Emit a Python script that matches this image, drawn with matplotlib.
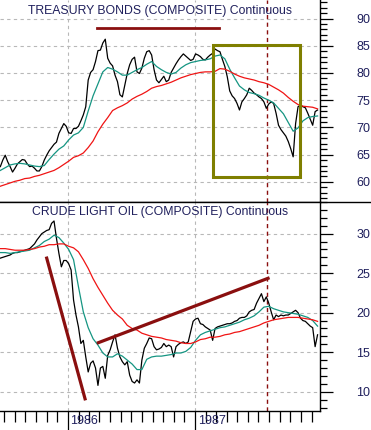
import numpy as np
import pandas as pd
import matplotlib
matplotlib.use('Agg')
import matplotlib.pyplot as plt
import matplotlib.dates as mdates
import matplotlib.ticker as mticker
import matplotlib.transforms as mtransforms
from matplotlib.lines import Line2D
from matplotlib.patches import Rectangle

# ---------------- data ----------------
price_dates = pd.date_range('1985-06-21', periods=131, freq='7D')
ma_dates = pd.date_range('1985-06-21', periods=66, freq='14D')

bond_price = [62.8, 64.0, 64.9, 63.7, 62.8, 61.8, 62.5, 63.3, 63.7, 64.1,
              64.0, 63.3, 62.8, 62.9, 62.5, 62.0, 62.0, 62.8, 64.0, 64.9,
              65.7, 66.3, 66.9, 67.3, 68.9, 69.8, 70.7, 70.2, 69.0, 68.9,
              69.8, 69.8, 70.2, 71.2, 72.3, 73.8, 78.7, 80.1, 80.6, 82.1,
              84.1, 84.2, 85.5, 86.2, 82.7, 81.8, 81.3, 79.6, 78.4, 76.0,
              75.6, 77.8, 79.9, 81.5, 82.5, 82.9, 80.2, 79.9, 80.9, 82.7,
              83.9, 84.1, 83.3, 80.6, 78.7, 78.2, 78.8, 79.4, 78.4, 78.7,
              80.1, 80.9, 81.7, 82.4, 83.0, 83.5, 83.1, 82.7, 82.3, 82.5,
              83.5, 83.3, 83.0, 82.5, 82.4, 82.9, 83.3, 83.6, 84.4, 84.1,
              83.9, 82.5, 81.2, 79.3, 76.7, 75.8, 75.3, 74.4, 73.2, 74.7,
              75.3, 76.0, 77.2, 76.8, 76.3, 76.0, 75.6, 75.3, 74.7, 73.5,
              74.3, 74.7, 74.4, 72.6, 70.4, 69.6, 69.0, 68.4, 67.4, 66.1,
              64.6, 70.7, 73.8, 74.1, 73.8, 73.6, 72.6, 71.5, 70.4, 72.9,
              73.2]
bond_ma_fast = [62.1, 62.6, 63.1, 63.3, 63.4, 63.3, 63.1, 62.9, 62.8, 63.0,
                64.1, 65.1, 66.0, 66.6, 67.7, 68.6, 69.0, 70.0, 73.0, 75.8,
                78.0, 80.2, 81.0, 80.7, 80.2, 79.6, 79.6, 80.1, 80.6, 81.0,
                81.6, 82.1, 81.2, 80.6, 80.1, 79.8, 80.1, 80.9, 81.5, 81.9,
                82.1, 82.3, 82.4, 82.6, 83.1, 83.3, 82.6, 80.7, 79.1, 77.6,
                76.9, 76.4, 76.2, 75.9, 75.4, 75.0, 74.5, 73.5, 72.5, 70.9,
                69.3, 69.9, 71.2, 71.8, 72.0, 72.1]
bond_ma_slow = [59.2, 59.5, 59.8, 60.1, 60.3, 60.6, 60.7, 61.0, 61.2, 61.5,
                61.8, 62.1, 62.6, 63.2, 63.8, 64.5, 64.8, 65.3, 66.3, 67.5,
                69.2, 70.6, 71.8, 73.1, 73.6, 74.0, 74.5, 75.2, 75.7, 76.1,
                76.6, 77.2, 77.5, 77.7, 78.0, 78.3, 78.7, 79.1, 79.4, 79.7,
                79.9, 80.1, 80.2, 80.2, 80.3, 80.8, 80.7, 80.3, 79.8, 79.4,
                79.1, 78.9, 78.7, 78.4, 78.2, 77.9, 77.4, 76.9, 76.3, 75.5,
                74.8, 74.2, 73.9, 73.8, 73.7, 73.4]

oil_price = [26.9, 27.0, 27.1, 27.2, 27.3, 27.5, 27.6, 27.6, 27.7, 27.8,
             27.9, 28.0, 28.1, 28.4, 28.7, 29.2, 29.6, 30.0, 30.2, 30.4,
             30.5, 31.3, 31.6, 29.4, 27.5, 25.8, 26.6, 26.6, 26.2, 25.4,
             21.6, 19.7, 18.2, 16.1, 16.5, 14.4, 12.5, 13.6, 13.9, 13.0,
             10.8, 13.0, 13.2, 11.7, 14.6, 15.3, 16.3, 17.2, 15.5, 14.4,
             13.8, 13.4, 13.8, 12.1, 11.3, 11.1, 11.5, 11.1, 14.0, 15.5,
             16.1, 16.8, 16.7, 15.7, 15.3, 15.4, 15.6, 16.1, 15.7, 15.9,
             15.7, 14.4, 15.7, 16.0, 16.2, 16.3, 16.1, 16.3, 17.6, 18.9,
             19.2, 19.3, 18.6, 18.5, 18.2, 18.0, 17.8, 16.5, 18.0, 18.2,
             18.3, 18.4, 18.5, 18.6, 18.6, 18.7, 18.9, 19.0, 19.3, 19.4,
             19.4, 19.6, 20.1, 20.3, 20.4, 21.2, 21.8, 22.4, 21.4, 22.0,
             21.2, 20.1, 19.1, 19.7, 19.5, 19.7, 19.6, 19.7, 19.7, 19.9,
             20.1, 20.3, 20.0, 19.3, 19.0, 18.9, 18.6, 18.3, 18.1, 15.7,
             17.2]
oil_ma_fast = [27.6, 27.6, 27.5, 27.6, 27.7, 27.8, 27.9, 28.2, 28.5, 29.0,
               29.3, 29.8, 29.5, 28.8, 28.0, 26.7, 23.3, 20.1, 18.1, 16.7,
               15.9, 14.9, 14.4, 14.4, 14.8, 14.5, 14.0, 13.5, 12.8, 12.8,
               14.1, 14.4, 14.5, 14.5, 14.6, 14.7, 14.9, 14.9, 15.1, 15.6,
               16.5, 17.2, 17.5, 17.7, 17.9, 18.1, 18.2, 18.4, 18.6, 18.8,
               19.1, 19.3, 19.6, 20.1, 20.7, 20.8, 20.5, 20.3, 20.1, 20.0,
               19.9, 19.8, 19.6, 19.4, 19.0, 18.3]
oil_ma_slow = [28.1, 28.1, 28.0, 27.9, 27.9, 27.9, 28.0, 28.1, 28.3, 28.4,
               28.6, 28.6, 28.7, 28.7, 28.4, 28.2, 27.7, 26.7, 25.6, 24.3,
               23.2, 22.2, 21.2, 20.3, 19.7, 19.2, 18.4, 18.0, 17.8, 17.4,
               17.2, 17.0, 16.9, 16.8, 16.6, 16.5, 16.4, 16.2, 16.1, 16.1,
               16.3, 16.6, 16.7, 16.9, 16.9, 17.0, 17.2, 17.3, 17.5, 17.6,
               17.8, 18.0, 18.2, 18.4, 18.7, 18.9, 19.1, 19.2, 19.3, 19.4,
               19.4, 19.4, 19.3, 19.2, 19.1, 18.9]

top_title = 'TREASURY BONDS (COMPOSITE) Continuous'
bottom_title = 'CRUDE LIGHT OIL (COMPOSITE) Continuous'
year_labels = ['1986', '1987']
year_dates = ['1986-01-01', '1987-01-01']

# annotations (dates / values)
bond_hline = (['1986-03-25', '1987-03-11'], [88.3, 88.3])
bond_box = (['1987-02-20', '1987-10-28'], [60.8, 85.2])
event_date = '1987-07-27'
oil_line1 = (['1985-11-01', '1986-02-19'], [26.9, 9.1])
oil_line2 = (['1986-03-29', '1987-07-29'], [16.2, 24.35])

# ---------------- style ----------------
NAVY = '#1f1f5c'
BLACK = '#000000'
TEAL = '#159582'
RED = '#f01414'
BROWN = '#8a0f0f'
OLIVE = '#7f7f00'
GRID = '#b8b8b8'
FONT = 'Liberation Sans'

W, H = 371, 430
fig = plt.figure(figsize=(W / 100, H / 100), dpi=100)
fig.patch.set_facecolor('white')

xr = 320 / W
ax1 = fig.add_axes([0, 1 - 202 / H, xr, 202 / H])
ax2 = fig.add_axes([0, 1 - 411 / H, xr, (411 - 202) / H])

xlim = (mdates.date2num(pd.Timestamp('1985-06-20')), mdates.date2num(pd.Timestamp('1987-12-25')))


def style(ax, ylim):
    ax.set_xlim(*xlim)
    ax.set_ylim(*ylim)
    for s in ['left', 'top']:
        ax.spines[s].set_visible(False)
    ax.spines['right'].set_linewidth(1.0)
    ax.spines['bottom'].set_linewidth(1.0)
    ax.yaxis.tick_right()
    ax.yaxis.set_major_locator(mticker.MultipleLocator(5))
    ax.yaxis.set_minor_locator(mticker.MultipleLocator(1))
    ax.yaxis.set_major_formatter(mticker.FormatStrFormatter('%d'))
    ax.tick_params(axis='y', which='major', length=9, width=0.9, direction='out',
                   pad=17, labelsize=9, labelcolor=NAVY)
    ax.tick_params(axis='y', which='minor', length=5, width=0.9, direction='out')
    for lab in ax.get_yticklabels():
        lab.set_fontfamily(FONT)
    ax.xaxis.set_major_locator(mdates.YearLocator())
    ax.xaxis.set_minor_locator(mdates.MonthLocator())
    ax.xaxis.set_major_formatter(mticker.NullFormatter())
    ax.grid(True, which='major', axis='both', linestyle=(0, (3, 3)), color=GRID, lw=0.8)
    ax.set_axisbelow(True)


style(ax1, (56.3, 93.4))
style(ax2, (7.56, 34.0))
ax1.tick_params(axis='x', which='both', length=0)
ax2.tick_params(axis='x', which='major', length=19, width=0.9, direction='out')
ax2.tick_params(axis='x', which='minor', length=8, width=0.9, direction='out')

# series
ax1.plot(price_dates, bond_price, color=BLACK, lw=0.9, zorder=3)
ax1.plot(ma_dates, bond_ma_fast, color=TEAL, lw=0.9, zorder=4)
ax1.plot(ma_dates, bond_ma_slow, color=RED, lw=0.9, zorder=4)
ax2.plot(price_dates, oil_price, color=BLACK, lw=0.9, zorder=3)
ax2.plot(ma_dates, oil_ma_fast, color=TEAL, lw=0.9, zorder=4)
ax2.plot(ma_dates, oil_ma_slow, color=RED, lw=0.9, zorder=4)

# annotations
ax1.plot(pd.to_datetime(bond_hline[0]), bond_hline[1], color=BROWN, lw=2.0, zorder=5)
bx = mdates.date2num(pd.to_datetime(bond_box[0]))
ax1.add_patch(Rectangle((bx[0], bond_box[1][0]), bx[1] - bx[0], bond_box[1][1] - bond_box[1][0],
                        fill=False, edgecolor=OLIVE, lw=2.2, zorder=5))
for ax in (ax1, ax2):
    ax.axvline(pd.Timestamp(event_date), color=BROWN, lw=1.0, ls=(0, (3, 2.5)), zorder=2)
ax2.plot(pd.to_datetime(oil_line1[0]), oil_line1[1], color=BROWN, lw=2.3, zorder=5)
ax2.plot(pd.to_datetime(oil_line2[0]), oil_line2[1], color=BROWN, lw=2.3, zorder=5)

# titles
ax1.text(0.5, 1 - 10.7 / 202, top_title, transform=ax1.transAxes, ha='center', va='center',
         fontsize=8.8, color=NAVY, fontfamily=FONT)
ax2.text(0.5, 1 - 9.7 / 209, bottom_title, transform=ax2.transAxes, ha='center', va='center',
         fontsize=8.8, color=NAVY, fontfamily=FONT)

# year labels
trans = mtransforms.blended_transform_factory(ax2.transData, ax2.transAxes)
off = mtransforms.ScaledTranslation(2.5 / 100, -3.5 / 100, fig.dpi_scale_trans)
for d, lab in zip(year_dates, year_labels):
    ax2.text(mdates.date2num(pd.Timestamp(d)), 0, lab, transform=trans + off,
             ha='left', va='top', fontsize=9, color=NAVY, fontfamily=FONT)

# full-width separator
fig.add_artist(Line2D([0, 1], [1 - 202 / H, 1 - 202 / H], transform=fig.transFigure,
                      color='black', lw=1.0))

fig.savefig('out.png', dpi=100)
